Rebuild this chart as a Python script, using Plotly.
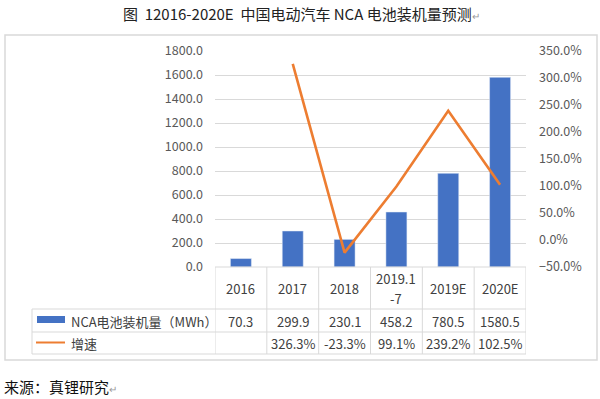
import plotly.graph_objects as go

categories = ["2016", "2017", "2018", "2019.1-7", "2019E", "2020E"]
header_line1 = ["2016", "2017", "2018", "2019.1", "2019E", "2020E"]
header_line2 = ["", "", "", "-7", "", ""]
capacity_mwh = [70.3, 299.9, 230.1, 458.2, 780.5, 1580.5]
growth_pct = [None, 326.3, -23.3, 99.1, 239.2, 102.5]
bar_name = "NCA电池装机量（MWh）"
line_name = "增速"

W, H = 600, 399
L, R, T, B = 215, 74, 51, 132
PW, PH = W - L - R, H - T - B

def px(xp):  # pixel x -> paper x
    return (xp - L) / PW

def py(yp):  # pixel y -> paper y
    return (H - B - yp) / PH

FONT = "Microsoft YaHei, Noto Sans CJK SC, Open Sans, sans-serif"
GRID = "#D9D9D9"
BLUE = "#4472C4"
ORANGE = "#ED7D31"
TXT = "#404040"

fig = go.Figure()
fig.add_trace(go.Bar(x=categories, y=capacity_mwh, marker_color=BLUE, width=0.405,
                     name=bar_name, yaxis="y"))
fig.add_trace(go.Scatter(x=categories, y=growth_pct, mode="lines", line=dict(color=ORANGE, width=2.6),
                         name=line_name, yaxis="y2"))

shapes = []
shapes.append(dict(type="rect", xref="paper", yref="paper", x0=px(5), x1=px(597), y0=py(360), y1=py(35),
                   line=dict(color=GRID, width=1.5), layer="below"))
n = len(categories)
for i in range(n + 1):
    shapes.append(dict(type="line", xref="x", yref="paper", x0=i - 0.5, x1=i - 0.5, y0=py(267), y1=py(354),
                       line=dict(color=GRID, width=1)))
shapes.append(dict(type="line", xref="paper", yref="paper", x0=px(32), x1=px(32), y0=py(309), y1=py(354),
                   line=dict(color=GRID, width=1)))
shapes.append(dict(type="line", xref="x", yref="paper", x0=-0.5, x1=n - 0.5, y0=py(267), y1=py(267),
                   line=dict(color=GRID, width=1)))
for yy in (309, 332, 354):
    shapes.append(dict(type="line", xref="paper", yref="paper", x0=px(32), x1=1, y0=py(yy), y1=py(yy),
                       line=dict(color=GRID, width=1)))
shapes.append(dict(type="rect", xref="paper", yref="paper", x0=px(37), x1=px(65), y0=py(323), y1=py(316),
                   fillcolor=BLUE, line=dict(width=0)))
shapes.append(dict(type="line", xref="paper", yref="paper", x0=px(36), x1=px(65), y0=py(342.5), y1=py(342.5),
                   line=dict(color=ORANGE, width=2)))

def txt(x, xref, y, text, size=13, color=TXT, xanchor="center"):
    return dict(x=x, xref=xref, y=y, yref="paper", text=text, showarrow=False,
                xanchor=xanchor, yanchor="middle", font=dict(size=size, color=color, family=FONT))

ann = []
for i, (l1, l2) in enumerate(zip(header_line1, header_line2)):
    if l2:
        ann.append(txt(i, "x", py(278.5), l1))
        ann.append(txt(i, "x", py(298), l2))
    else:
        ann.append(txt(i, "x", py(288), l1))
for i, v in enumerate(capacity_mwh):
    ann.append(txt(i, "x", py(321), f"{v:.1f}"))
for i, v in enumerate(growth_pct):
    if v is not None:
        ann.append(txt(i, "x", py(343), f"{v:.1f}%"))
ann.append(txt(px(69), "paper", py(321), bar_name, xanchor="left"))
ann.append(txt(px(69), "paper", py(343), line_name, xanchor="left"))
ann.append(txt(px(301), "paper", py(13),
               "图  12016-2020E  中国电动汽车 NCA 电池装机量预测<span style='color:#999;font-size:10px'>↵</span>",
               size=15, color="#222"))
ann.append(txt(px(2), "paper", py(386), "来源：真锂研究<span style='color:#999;font-size:10px'>↵</span>",
               size=15, color="#111", xanchor="left"))

fig.update_layout(
    width=W, height=H, margin=dict(l=L, r=R, t=T, b=B, pad=0),
    paper_bgcolor="white", plot_bgcolor="white", showlegend=False,
    font=dict(family=FONT),
    xaxis=dict(type="category", range=[-0.5, n - 0.5], showticklabels=False, showgrid=False,
               zeroline=False, showline=False, ticks=""),
    yaxis=dict(range=[0, 1800], dtick=200, tickformat=".1f", showgrid=True, gridcolor=GRID, gridwidth=1,
               zeroline=False, showline=False, ticks="", ticklabelstandoff=11,
               tickfont=dict(size=12.5, color="#595959", family=FONT)),
    yaxis2=dict(range=[-50, 350], dtick=50, tickformat=".1f", ticksuffix="%", overlaying="y", side="right",
                showgrid=False, zeroline=False, showline=False, ticks="", ticklabelstandoff=12,
                tickfont=dict(size=12.5, color="#595959", family=FONT)),
    shapes=shapes, annotations=ann,
)
fig.write_html("out.html", config={"displayModeBar": False},
               post_script="document.body.style.margin='0';")
